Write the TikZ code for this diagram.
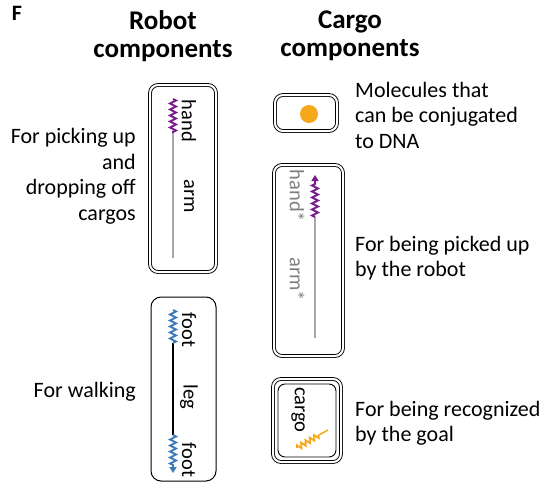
\documentclass[tikz,border=0pt]{standalone}
\usepackage{fontspec}
\setmainfont{Carlito}
\usetikzlibrary{decorations.pathmorphing,arrows.meta}
\definecolor{purp}{HTML}{7A1B8C}
\definecolor{fblue}{HTML}{3D7AB8}
\definecolor{orng}{HTML}{F6A81C}
\definecolor{lgray}{HTML}{A8A8A8}
\definecolor{tgray}{HTML}{7F7F7F}
\begin{document}
\begin{tikzpicture}[x=1pt,y=-1pt,
 dbox/.style={draw, double=white, double distance=2pt, line width=0.9pt, rounded corners=8pt, inner sep=0pt},
 sbox/.style={draw, line width=1pt, rounded corners=10pt, inner sep=0pt},
 lbl/.style={font=\fontsize{22}{25.5}\selectfont, inner sep=0pt},
 head/.style={font=\bfseries\fontsize{27}{28}\selectfont, align=center, inner sep=0pt},
 comp/.style={font=\fontsize{20.5}{21}\selectfont, rotate=-90, inner sep=0pt},
 zz/.style={decorate, decoration={zigzag, amplitude=3pt, segment length=6pt}, line width=1.8pt}]
\useasboundingbox (0,0) rectangle (544,493);

% headings
\node[font=\bfseries\fontsize{22}{24}\selectfont, inner sep=0pt] (F) at (17,13) {F};
\node[head] (hr) at (163,36) {Robot\\components};
\node[head] (hc) at (350,36) {Cargo\\components};

% robot box 1: hand / arm
\node[dbox, minimum width=66pt, minimum height=187pt] (rb1) at (183,178.5) {};
\coordinate (h1a) at (173,99);
\coordinate (h1b) at (173,133);
\coordinate (h1c) at (173,258);
\draw[lgray, line width=2pt] (h1b) -- (h1c);
\draw[zz, purp] (h1a) -- (h1b);
\node[comp] (thand) at (189,121) {hand};
\node[comp] (tarm) at (189,196) {arm};

% robot box 2: foot / leg / foot
\node[sbox, minimum width=65pt, minimum height=184pt] (rb2) at (183.5,389) {};
\coordinate (f1a) at (173,310);
\coordinate (f1b) at (173,343);
\coordinate (f2a) at (173,435);
\coordinate (f2b) at (173,466);
\coordinate (f2c) at (173,473);
\draw[black, line width=2.5pt] (f1b) -- (f2a);
\draw[zz, fblue] (f1a) -- (f1b);
\draw[zz, fblue] (f2a) -- (f2b);
\draw[fblue, line width=1.5pt, -{Triangle[length=6pt,width=7pt]}] (f2b) -- (f2c);
\node[comp] (tfoot1) at (189,330) {foot};
\node[comp] (tleg) at (189,397) {leg};
\node[comp] (tfoot2) at (189,460) {foot};

% cargo box 1: molecule
\node[dbox, minimum width=62pt, minimum height=36pt] (cb1) at (306,113) {};
\node[circle, fill=orng, minimum size=18pt, inner sep=0pt] (dot) at (309,114) {};

% cargo box 2: hand* / arm*
\node[dbox, minimum width=69pt, minimum height=191pt] (cb2) at (308.5,260.5) {};
\coordinate (h2a) at (315,183);
\coordinate (h2b) at (315,217);
\coordinate (h2c) at (315,338);
\coordinate (h2t) at (315,175);
\draw[lgray, line width=2pt] (h2b) -- (h2c);
\draw[zz, purp] (h2b) -- (h2a);
\draw[purp, line width=1.5pt, -{Triangle[length=6pt,width=7pt]}] (h2a) -- (h2t);
\node[comp, text=tgray] (thand2) at (297,196) {hand*};
\node[comp, text=tgray] (tarm2) at (297,279) {arm*};

% cargo box 3: cargo
\node[dbox, minimum width=68pt, minimum height=83pt] (cb3o) at (307,420.5) {};
\node[draw, line width=0.9pt, rounded corners=7pt, minimum width=58pt, minimum height=73pt, inner sep=0pt] (cb3i) at (307,420.5) {};
\node[comp] (tcargo) at (298,410) {cargo};
\coordinate (o1) at (297,448);
\coordinate (o2) at (319,435);
\coordinate (o3) at (328,430);
\draw[zz, orng, decoration={amplitude=2.5pt, segment length=5pt}] (o1) -- (o2);
\draw[orng, line width=1.5pt] (o2) -- (o3);

% labels
\node[lbl, align=right, anchor=east] (l1) at (136,176) {For picking up\\and\\dropping off\\cargos};
\node[lbl, anchor=east] (l2) at (136,392) {For walking};
\node[lbl, align=left, anchor=west] (r1) at (355,115) {Molecules that\\can be conjugated\\to DNA};
\node[lbl, align=left, anchor=west] (r2) at (355,258) {For being picked up\\by the robot};
\node[lbl, align=left, anchor=west] (r3) at (355,423) {For being recognized\\by the goal};
\end{tikzpicture}
\end{document}
